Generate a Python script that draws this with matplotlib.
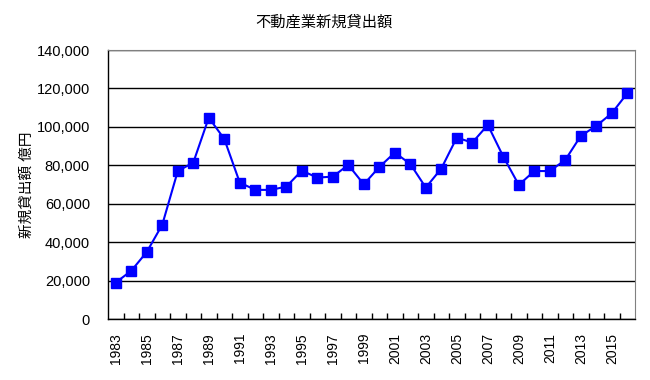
import numpy as np
import matplotlib.pyplot as plt
from matplotlib.ticker import FuncFormatter, FixedLocator

plt.rcParams['font.family'] = ['Liberation Sans', 'Noto Sans CJK JP', 'DejaVu Sans']

years = list(range(1983, 2017))
# 新規貸出額（億円）
loans = [19000, 25100, 34900, 49100, 77000, 81400, 104800, 93700, 71000, 67200,
         67200, 68900, 77200, 73600, 74100, 80200, 70100, 79100, 86600, 80700,
         68400, 78300, 94400, 91800, 101000, 84500, 69800, 77000, 77000, 82800,
         95300, 100500, 107100, 117500]

title = '不動産業新規貸出額'
ylabel = '新規貸出額 億円'

fig = plt.figure(figsize=(6.5, 3.8), dpi=100)
ax = fig.add_axes([0.1662, 0.1605, 0.8108, 0.7079])

x = np.arange(len(years))
ax.plot(x, loans, color='#0000FF', linewidth=1.5, marker='s', markersize=7.5,
        markeredgecolor='#0000FF', zorder=3)

ax.set_xlim(-0.5, len(years) - 0.5)
ax.set_ylim(0, 140000)
ax.set_yticks(np.arange(0, 140001, 20000))
ax.yaxis.set_major_formatter(FuncFormatter(lambda v, p: f'{int(v):,}'))
ax.yaxis.grid(True, color='black', linewidth=1)
ax.set_axisbelow(True)

# 年ラベルは2年おき、目盛り線は区切りごと
ax.set_xticks(x[::2])
ax.set_xticklabels([str(y) for y in years[::2]], rotation=90, fontsize=10)
ax.xaxis.set_minor_locator(FixedLocator(np.arange(0.5, len(years) - 0.5, 1)))
ax.tick_params(axis='x', which='major', length=0, pad=10)
ax.tick_params(axis='x', which='minor', length=4, width=1, direction='in')
ax.tick_params(axis='y', length=0, labelsize=10.5, pad=13)

for s in ['top', 'right']:
    ax.spines[s].set_color('#808080')
for s in ['left', 'bottom']:
    ax.spines[s].set_color('black')
    ax.spines[s].set_linewidth(1)

ax.set_ylabel(ylabel, fontsize=10.5, labelpad=2)
fig.text(0.499, 0.941, title, ha='center', va='center', fontsize=11)

fig.savefig('out.png', dpi=100)
